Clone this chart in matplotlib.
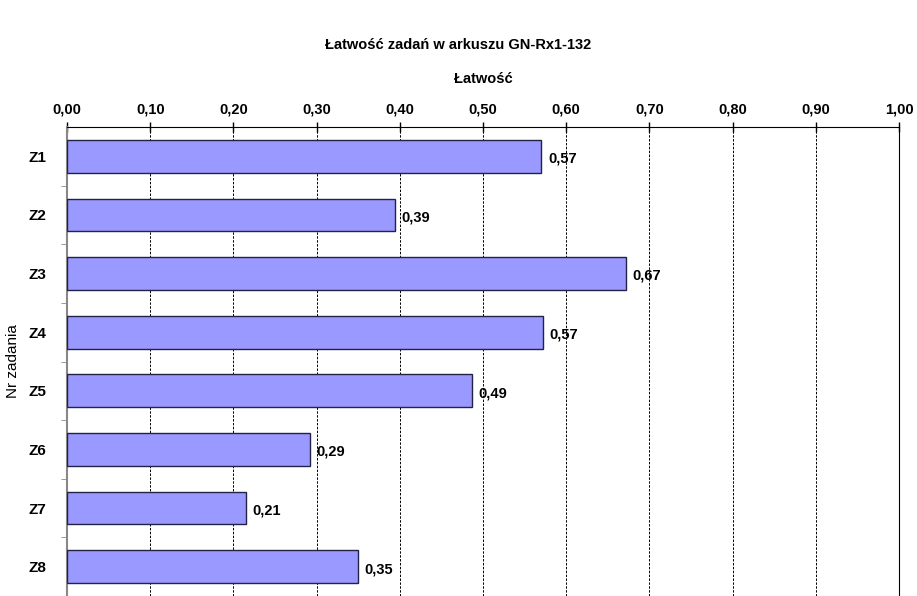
import numpy as np
import matplotlib.pyplot as plt
from matplotlib.ticker import FixedLocator, FuncFormatter

plt.rcParams['font.family'] = ['Liberation Sans Narrow', 'Liberation Sans', 'DejaVu Sans']

zadania = ['Z1', 'Z2', 'Z3', 'Z4', 'Z5', 'Z6', 'Z7', 'Z8']
latwosc = [0.570, 0.394, 0.672, 0.572, 0.487, 0.292, 0.215, 0.350]

fig = plt.figure(figsize=(9.17, 5.96), dpi=100)
ax = fig.add_axes([67/917, 0.0, (899 - 67)/917, 1 - 127/596])

y = np.arange(len(zadania))
ax.barh(y, latwosc, height=0.56, color='#9999ff', edgecolor='#222244', linewidth=1, zorder=3)

for yi, v in zip(y, latwosc):
    ax.text(v + 0.008, yi + 0.04, f'{v:.2f}'.replace('.', ','), va='center', ha='left',
            fontsize=10.5, fontweight='bold', zorder=4)

ax.set_xlim(0, 1)
ax.set_ylim(len(zadania) - 0.5, -0.5)

ax.xaxis.tick_top()
ax.xaxis.set_label_position('top')
ax.set_xticks(np.arange(0, 1.01, 0.1))
ax.xaxis.set_major_formatter(FuncFormatter(lambda x, p: f'{x:.2f}'.replace('.', ',')))
ax.tick_params(axis='x', direction='inout', length=7, width=1, pad=4, labelsize=10.5)
for lbl in ax.get_xticklabels():
    lbl.set_fontweight('bold')
ax.set_xlabel('Łatwość', fontsize=10.5, fontweight='bold', labelpad=14)

ax.set_yticks(y)
ax.set_yticklabels(zadania, fontsize=11, fontweight='bold')
ax.tick_params(axis='y', which='major', length=0, pad=15)
ax.yaxis.set_minor_locator(FixedLocator(np.arange(0.5, len(zadania) - 1, 1)))
ax.tick_params(axis='y', which='minor', length=4, color='#888888', direction='out')
ax.set_ylabel('Nr zadania', fontsize=11, labelpad=6)

ax.grid(axis='x', color='black', linestyle=(0, (2.5, 1.5)), linewidth=0.7, zorder=0)
ax.spines['bottom'].set_visible(False)
ax.spines['left'].set_color('#888888')
ax.spines['left'].set_linewidth(1.5)
ax.spines['top'].set_color('black')
ax.spines['right'].set_color('black')

fig.text(0.5, 1 - 45/596, 'Łatwość zadań w arkuszu GN-Rx1-132', ha='center', va='center',
         fontsize=10.5, fontweight='bold')

fig.savefig('out.png', dpi=100)
